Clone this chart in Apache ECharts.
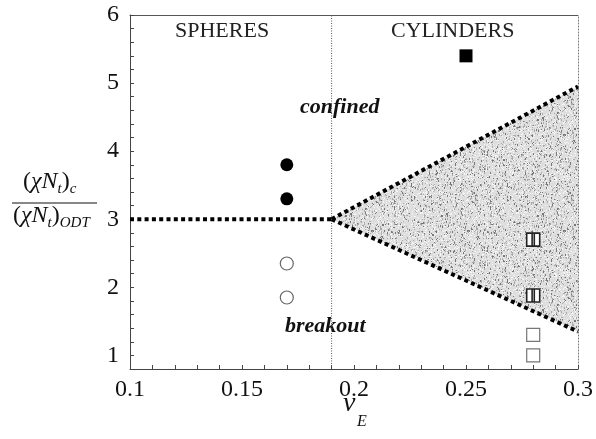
<!DOCTYPE html>
<html>
<head>
<meta charset="utf-8">
<script src="https://cdn.jsdelivr.net/npm/echarts@6/dist/echarts.min.js"></script>
<style>
  html, body { margin: 0; padding: 0; background: #fff; }
  #chart { width: 596px; height: 439px; }
</style>
</head>
<body>
<div id="chart"></div>
<script>
// data
var confinedX = [0.17, 0.17];
var confinedY = [3.8, 3.3];
var breakoutX = [0.17, 0.17];
var breakoutY = [2.35, 1.85];
var cylConfinedX = [0.25];
var cylConfinedY = [5.4];
var templatedX = [0.28, 0.28];
var templatedY = [2.7, 1.88];
var cylBreakoutX = [0.28, 0.28];
var cylBreakoutY = [1.3, 1.0];

// phase boundaries
var sphereEdgeX = [0.1, 0.19];
var sphereEdgeY = [3, 3];
var upperEdgeX = [0.19, 0.3];
var upperEdgeY = [3, 4.95];
var lowerEdgeX = [0.19, 0.3];
var lowerEdgeY = [3, 1.35];
var dividerX = [0.19, 0.19];
var dividerY = [0.8, 6];

var xTickLabels = [0.1, 0.15, 0.2, 0.25, 0.3];
var yTickLabels = [1, 2, 3, 4, 5, 6];

function pairs(xs, ys) {
  return xs.map(function (x, i) { return [x, ys[i]]; });
}

// speckled grey texture for the templated wedge
function makeTexture() {
  var c = document.createElement('canvas');
  c.width = 96; c.height = 96;
  var g = c.getContext('2d');
  g.fillStyle = '#dedede';
  g.fillRect(0, 0, 96, 96);
  var seed = 7;
  function rnd() { seed = (seed * 16807) % 2147483647; return seed / 2147483647; }
  for (var k = 0; k < 1400; k++) {
    var px = Math.floor(rnd() * 96), py = Math.floor(rnd() * 96);
    var shade = rnd() < 0.35 ? '#777' : '#aaa';
    g.fillStyle = shade;
    g.fillRect(px, py, 1, rnd() < 0.4 ? 2 : 1);
  }
  for (var k2 = 0; k2 < 1500; k2++) {
    g.fillStyle = '#f6f6f6';
    g.fillRect(Math.floor(rnd() * 96), Math.floor(rnd() * 96), 1, 1);
  }
  return c;
}

var serif = '"Liberation Serif", "DejaVu Serif", serif';
var chart = echarts.init(document.getElementById('chart'));

var edgeStyle = { color: '#000', width: 4, type: [4, 3.3], cap: 'butt' };
var fracRich = {
  n: { fontFamily: serif, fontSize: 24, lineHeight: 30, fill: '#111' },
  i: { fontFamily: serif, fontSize: 24, fontStyle: 'italic', lineHeight: 30, fill: '#111' },
  s: { fontFamily: serif, fontSize: 15, fontStyle: 'italic', lineHeight: 14, verticalAlign: 'bottom', fill: '#111' }
};

var option = {
  animation: false,
  backgroundColor: '#fff',
  grid: { left: 130, top: 15, right: 17, bottom: 70 },
  xAxis: [{
    type: 'value', min: 0.1, max: 0.3, interval: 0.01,
    axisLine: { lineStyle: { color: '#444', width: 1 } },
    axisTick: { inside: true, length: 4, lineStyle: { color: '#444' } },
    splitLine: { show: false },
    axisLabel: {
      margin: 9, color: '#111', fontFamily: serif, fontSize: 24,
      formatter: function (v) {
        for (var i = 0; i < xTickLabels.length; i++) {
          if (Math.abs(v - xTickLabels[i]) < 1e-6) return String(xTickLabels[i]);
        }
        return '';
      }
    }
  }, {
    type: 'value', position: 'top', min: 0.1, max: 0.3,
    axisLine: { show: true, lineStyle: { color: '#555', width: 1 } },
    axisTick: { show: false }, axisLabel: { show: false }, splitLine: { show: false }
  }],
  yAxis: [{
    type: 'value', min: 0.8, max: 6, interval: 0.2,
    axisLine: { show: true, lineStyle: { color: '#444', width: 1 } },
    axisTick: { show: true, inside: true, length: 4, lineStyle: { color: '#444' } },
    splitLine: { show: false },
    axisLabel: {
      margin: 11, color: '#111', fontFamily: serif, fontSize: 24,
      formatter: function (v) {
        for (var i = 0; i < yTickLabels.length; i++) {
          if (Math.abs(v - yTickLabels[i]) < 1e-6) return String(yTickLabels[i]);
        }
        return '';
      }
    }
  }, {
    type: 'value', position: 'right', min: 0.8, max: 6,
    axisLine: { show: true, lineStyle: { color: '#777', width: 1, type: [1, 2] } },
    axisTick: { show: false }, axisLabel: { show: false }, splitLine: { show: false }
  }],
  graphic: [
    { type: 'text', left: 175, top: 20, style: { text: 'SPHERES', font: '22px ' + serif, fill: '#222' } },
    { type: 'text', left: 391, top: 20, style: { text: 'CYLINDERS', font: '22px ' + serif, fill: '#222' } },
    { type: 'text', left: 300, top: 96, style: { text: 'confined', font: 'italic bold 22px ' + serif, fill: '#111' } },
    { type: 'text', left: 426, top: 196, style: { text: 'templated', font: 'italic bold 22px ' + serif, fill: '#111' } },
    { type: 'text', left: 285, top: 315, style: { text: 'breakout', font: 'italic bold 22px ' + serif, fill: '#111' } },
    // y-axis name as a fraction
    { type: 'text', left: 23, top: 170, style: { text: '{n|(}{i|χN}{s|t}{n|)}{s|c}', rich: fracRich } },
    { type: 'line', shape: { x1: 12, y1: 203, x2: 97, y2: 203 }, style: { stroke: '#111', lineWidth: 1.2 } },
    { type: 'text', left: 13, top: 204, style: { text: '{n|(}{i|χN}{s|t}{n|)}{s|ODT}', rich: fracRich } },
    // x-axis name
    { type: 'text', left: 343, top: 390, style: { text: 'ν', font: 'italic 28px ' + serif, fill: '#111' } },
    { type: 'text', left: 357, top: 414, style: { text: 'E', font: 'italic 16px ' + serif, fill: '#111' } }
  ],
  series: [
    {
      type: 'custom', name: 'templated region', z: 1,
      renderItem: function (params, api) {
        var pts = pairs([upperEdgeX[0], upperEdgeX[1], lowerEdgeX[1]],
                        [upperEdgeY[0], upperEdgeY[1], lowerEdgeY[1]]).map(function (p) { return api.coord(p); });
        return { type: 'polygon', shape: { points: pts }, style: { fill: { image: makeTexture(), repeat: 'repeat' } } };
      },
      data: [0]
    },
    {
      type: 'line', data: pairs(dividerX, dividerY), symbol: 'none', z: 2,
      lineStyle: { color: '#555', width: 1, type: [1, 1.5] }
    },
    { type: 'line', data: pairs(sphereEdgeX, sphereEdgeY), symbol: 'none', z: 3, lineStyle: edgeStyle },
    { type: 'line', data: pairs(upperEdgeX, upperEdgeY), symbol: 'none', z: 3, lineStyle: edgeStyle },
    { type: 'line', data: pairs(lowerEdgeX, lowerEdgeY), symbol: 'none', z: 3, lineStyle: edgeStyle },
    {
      type: 'scatter', data: pairs(confinedX, confinedY), symbol: 'circle', symbolSize: 13, z: 5,
      itemStyle: { color: '#000', opacity: 1 }
    },
    {
      type: 'scatter', data: pairs(breakoutX, breakoutY), symbol: 'circle', symbolSize: 13, z: 5,
      itemStyle: { color: '#fff', borderColor: '#666', borderWidth: 1.2, opacity: 1 }
    },
    {
      type: 'scatter', data: pairs(cylConfinedX, cylConfinedY), symbol: 'rect', symbolSize: 13, z: 5,
      itemStyle: { color: '#000', opacity: 1 }
    },
    {
      type: 'scatter', data: pairs(templatedX, templatedY),
      symbol: 'path://M0,0H12V12H0Z M5,0V12 M7,0V12', symbolSize: 13, symbolKeepAspect: true, z: 5,
      itemStyle: { color: '#fff', borderColor: '#222', borderWidth: 1.6, opacity: 1 }
    },
    {
      type: 'scatter', data: pairs(cylBreakoutX, cylBreakoutY), symbol: 'rect', symbolSize: 13, z: 5,
      itemStyle: { color: '#fff', borderColor: '#777', borderWidth: 1.2, opacity: 1 }
    }
  ]
};

chart.setOption(option);
</script>
</body>
</html>
